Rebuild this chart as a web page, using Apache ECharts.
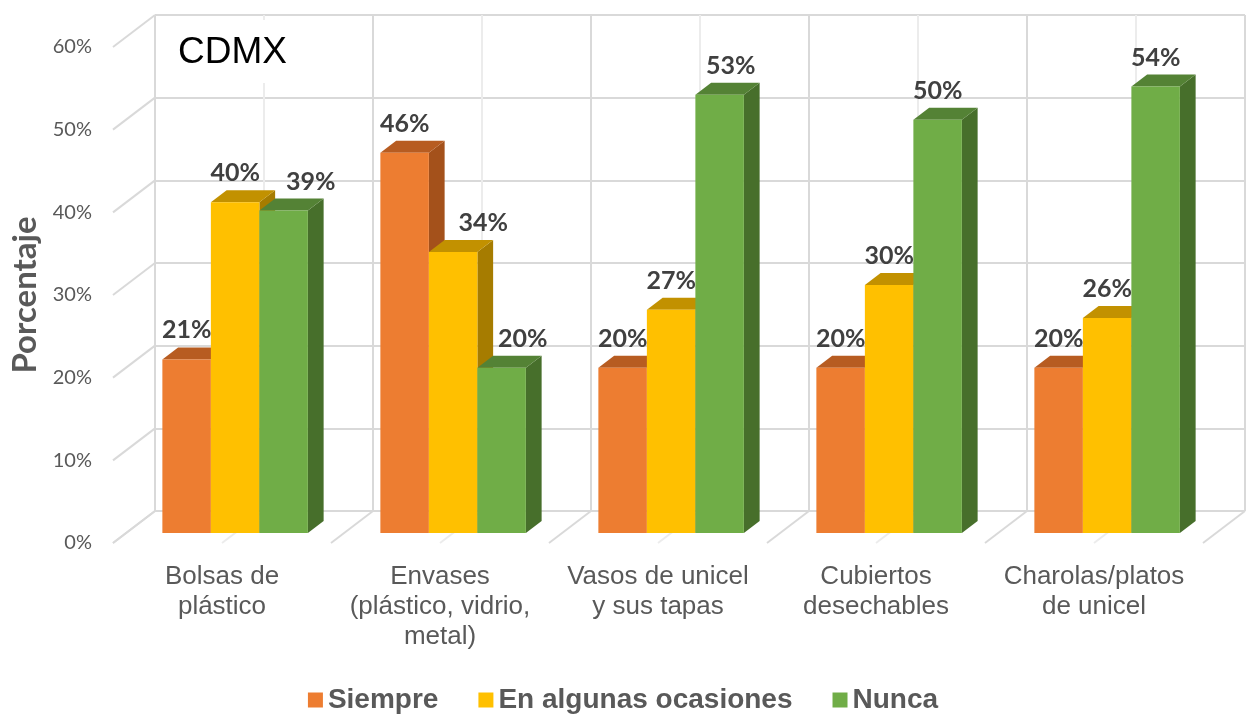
<!DOCTYPE html>
<html>
<head>
<meta charset="utf-8">
<script src="https://cdn.jsdelivr.net/npm/echarts@6/dist/echarts.min.js"></script>
<style>
  html, body { margin: 0; padding: 0; background: #ffffff; }
  #chart { width: 1246px; height: 714px; }
</style>
</head>
<body>
<div id="chart"></div>
<script>
// ---- data ----
const CATEGORIES = [
  'Bolsas de\nplástico',
  'Envases\n(plástico, vidrio,\nmetal)',
  'Vasos de unicel\ny sus tapas',
  'Cubiertos\ndesechables',
  'Charolas/platos\nde unicel'
];
const SERIES_NAMES = ['Siempre', 'En algunas ocasiones', 'Nunca'];
const SIEMPRE   = [21, 46, 20, 20, 20];
const OCASIONES = [40, 34, 27, 30, 26];
const NUNCA     = [39, 20, 53, 50, 54];
const Y_MIN = 0, Y_MAX = 60, Y_STEP = 10;
const TITLE = 'CDMX';
const Y_NAME = 'Porcentaje';

// ---- layout / style ----
const WALL = { left: 155, top: 15, width: 1090, height: 496 };   // back wall
const DEPTH = { dx: -42, dy: 32 };                                  // back wall -> front edge of floor
const BAR = { width: 0.2225, zFront: 0.6875, zBack: 0.3125 };      // width in category units, depth as fraction
const FACE_COLORS = [
  { front: '#ED7D31', top: '#B75C21', side: '#A4511B' },
  { front: '#FFC000', top: '#C29100', side: '#A67C00' },
  { front: '#70AD47', top: '#548235', side: '#476F2B' }
];
// a few value labels sit to the right of their bar (series-category -> px)
const LABEL_NUDGE = { '2-0': 27, '1-1': 30, '2-1': 21, '2-2': 11 };
const GRID_COLOR = '#d9d9d9';
const GRID_MINOR = '#ececec';
const TEXT_GRAY = '#595959';
const CALIBRI_LIKE = 'Lato, "Open Sans", sans-serif';
const ARIAL_LIKE = '"Liberation Sans", Arial, sans-serif';

const chart = echarts.init(document.getElementById('chart'), null, { renderer: 'canvas' });

function shift(p, z) {
  return [p[0] + DEPTH.dx * z, p[1] + DEPTH.dy * z];
}

// side wall and floor lines running from the back wall towards the viewer
function renderWalls(params, api) {
  const children = [];
  for (let v = Y_MIN; v <= Y_MAX; v += Y_STEP) {
    const p = api.coord([0, v]);
    const q = shift(p, 1);
    children.push({
      type: 'line',
      shape: { x1: p[0], y1: p[1], x2: q[0], y2: q[1] },
      style: { stroke: GRID_COLOR, lineWidth: 2 }
    });
  }
  for (let k = 0; k <= CATEGORIES.length * 2; k++) {
    const x = k / 2;
    const p = api.coord([x, Y_MIN]);
    const q = shift(p, 1);
    children.push({
      type: 'line',
      shape: { x1: p[0], y1: p[1], x2: q[0], y2: q[1] },
      style: { stroke: k % 2 === 0 ? GRID_COLOR : GRID_MINOR, lineWidth: 2 }
    });
  }
  return { type: 'group', children: children };
}

// one 3D column: right side, top and front faces plus its value label
function barRenderer(s) {
  return function (params, api) {
    const i = api.value(0);
    const v = api.value(1);
    const x0 = i + 0.5 + (s - 1.5) * BAR.width;
    const x1 = x0 + BAR.width;
    const lb = api.coord([x0, Y_MIN]);
    const rt = api.coord([x1, v]);
    const L = lb[0], B = lb[1], R = rt[0], T = rt[1];
    const zf = BAR.zFront, zb = BAR.zBack;
    const fLT = shift([L, T], zf), fRT = shift([R, T], zf), fRB = shift([R, B], zf);
    const bLT = shift([L, T], zb), bRT = shift([R, T], zb), bRB = shift([R, B], zb);
    const c = FACE_COLORS[s];
    const nudge = LABEL_NUDGE[s + '-' + i] || 0;
    return {
      type: 'group',
      children: [
        { type: 'polygon', z2: 0, shape: { points: [fRT, bRT, bRB, fRB] }, style: { fill: c.side } },
        { type: 'polygon', z2: 1, shape: { points: [fLT, fRT, bRT, bLT] }, style: { fill: c.top } },
        { type: 'rect', z2: 2, shape: { x: fLT[0], y: fLT[1], width: fRT[0] - fLT[0], height: fRB[1] - fRT[1] }, style: { fill: c.front } },
        {
          type: 'text', z2: 100,
          style: {
            text: v + '%',
            x: (fLT[0] + fRT[0]) / 2 + nudge,
            y: fLT[1] - 29,
            align: 'center',
            verticalAlign: 'middle',
            fill: '#404040',
            fontSize: 25,
            fontWeight: 'bold',
            fontFamily: CALIBRI_LIKE
          }
        }
      ]
    };
  };
}

const seriesValues = [SIEMPRE, OCASIONES, NUNCA];

const option = {
  backgroundColor: '#ffffff',
  animation: false,
  title: {
    text: TITLE,
    left: 160,
    top: 20,
    padding: [13, 12, 10, 18],
    backgroundColor: '#ffffff',
    textStyle: { fontFamily: ARIAL_LIKE, fontSize: 37, fontWeight: 'normal', color: '#000000', lineHeight: 40 }
  },
  legend: {
    data: SERIES_NAMES,
    left: 'center',
    top: 685,
    padding: 0,
    icon: 'rect',
    itemWidth: 15,
    itemHeight: 15,
    itemGap: 40,
    selectedMode: false,
    textStyle: { fontFamily: ARIAL_LIKE, fontSize: 28, fontWeight: 'bold', color: TEXT_GRAY, lineHeight: 30 }
  },
  grid: [
    { left: WALL.left, top: WALL.top, width: WALL.width, height: WALL.height },
    { left: WALL.left + DEPTH.dx, top: WALL.top + DEPTH.dy, width: WALL.width, height: WALL.height }
  ],
  xAxis: [
    {
      gridIndex: 0, type: 'value', min: 0, max: CATEGORIES.length, interval: 1,
      axisLine: { show: false }, axisTick: { show: false }, axisLabel: { show: false },
      splitLine: { show: true, lineStyle: { color: GRID_COLOR, width: 2 } },
      minorTick: { show: false, splitNumber: 2 },
      minorSplitLine: { show: true, lineStyle: { color: GRID_MINOR, width: 2 } }
    },
    {
      gridIndex: 1, type: 'category', data: CATEGORIES,
      axisLine: { show: false }, axisTick: { show: false }, splitLine: { show: false },
      axisLabel: { interval: 0, margin: 19, fontFamily: ARIAL_LIKE, fontSize: 26, lineHeight: 30, color: TEXT_GRAY, align: 'center' }
    }
  ],
  yAxis: [
    {
      gridIndex: 0, type: 'value', min: Y_MIN, max: Y_MAX, interval: Y_STEP,
      axisLine: { show: false }, axisTick: { show: false }, axisLabel: { show: false },
      splitLine: { show: true, lineStyle: { color: GRID_COLOR, width: 2 } }
    },
    {
      gridIndex: 1, type: 'value', min: Y_MIN, max: Y_MAX, interval: Y_STEP,
      axisLine: { show: false }, axisTick: { show: false }, splitLine: { show: false },
      axisLabel: { formatter: '{value}%', margin: 21, fontFamily: CALIBRI_LIKE, fontSize: 20, color: TEXT_GRAY },
      name: Y_NAME,
      nameLocation: 'middle',
      nameRotate: 90,
      nameGap: 68,
      nameTextStyle: { fontFamily: CALIBRI_LIKE, fontSize: 33, fontWeight: 'bold', color: TEXT_GRAY }
    }
  ],
  series: [
    {
      type: 'custom', name: 'walls', silent: true, z: 1,
      xAxisIndex: 0, yAxisIndex: 0,
      data: [[0, 0]],
      renderItem: renderWalls
    }
  ].concat(SERIES_NAMES.map(function (name, s) {
    return {
      type: 'custom', name: name, z: 2,
      xAxisIndex: 0, yAxisIndex: 0,
      itemStyle: { color: FACE_COLORS[s].front },
      data: seriesValues[s].map(function (v, i) { return [i, v]; }),
      renderItem: barRenderer(s)
    };
  }))
};

chart.setOption(option);
</script>
</body>
</html>
